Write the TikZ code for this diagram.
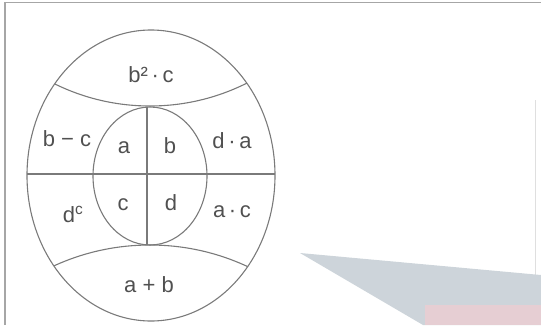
\documentclass[tikz,border=0pt]{standalone}
\usepackage{fontspec}
\setmainfont{Liberation Sans}
\definecolor{linegray}{HTML}{7A7A7A}
\definecolor{textgray}{HTML}{505050}
\definecolor{shadegray}{HTML}{CDD4DA}
\definecolor{shadepink}{HTML}{EDCDD2}
\begin{document}
\begin{tikzpicture}[x=1pt, y=-1pt, line width=1.1pt,
    every node/.style={font=\fontsize{22}{24}\selectfont, text=textgray, anchor=base, inner sep=0pt},
    part/.style={draw=linegray}]

    \useasboundingbox (0,0) rectangle (541,325);

    % page frame (scan edges)
    \draw[gray!70, line width=1.4pt] (5,325) -- (5,2.5) -- (541,2.5);
    \draw[gray!25, line width=0.8pt] (535,100) -- (535,325);

    % faint shading at the lower right
    \fill[shadegray] (300,253) -- (541,275) -- (541,325) -- (423,325) -- cycle;
    \fill[shadepink, opacity=0.8] (425,305) rectangle (541,325);

    % outer ellipse and the two caps
    \begin{scope}
      \clip (151,175.5) ellipse [x radius=124, y radius=145.5];
      \draw[part] (150,-110) circle [radius=216];
      \draw[part] (150,476) circle [radius=231];
    \end{scope}
    \draw[part] (151,175.5) ellipse [x radius=124, y radius=145.5];

    % middle band
    \draw[part] (27,174) -- (275,174);
    \draw[part] (150,176) ellipse [x radius=57, y radius=69];
    \draw[part] (147,107) -- (147,245);

    % labels
    \node (capTop) at (151,82) {b²\,·\,c};
    \node (bandNW) at (67,146) {b − c};
    \node (coreA) at (124,153) {a};
    \node (coreB) at (170,153) {b};
    \node (bandNE) at (232,148) {d\,·\,a};
    \node (bandSW) at (73,222) {d\textsuperscript{c}};
    \node (coreC) at (123,210) {c};
    \node (coreD) at (171,210) {d};
    \node (bandSE) at (232,217) {a\,·\,c};
    \node (capBot) at (149,292) {a + b};

  \end{tikzpicture}
\end{document}
